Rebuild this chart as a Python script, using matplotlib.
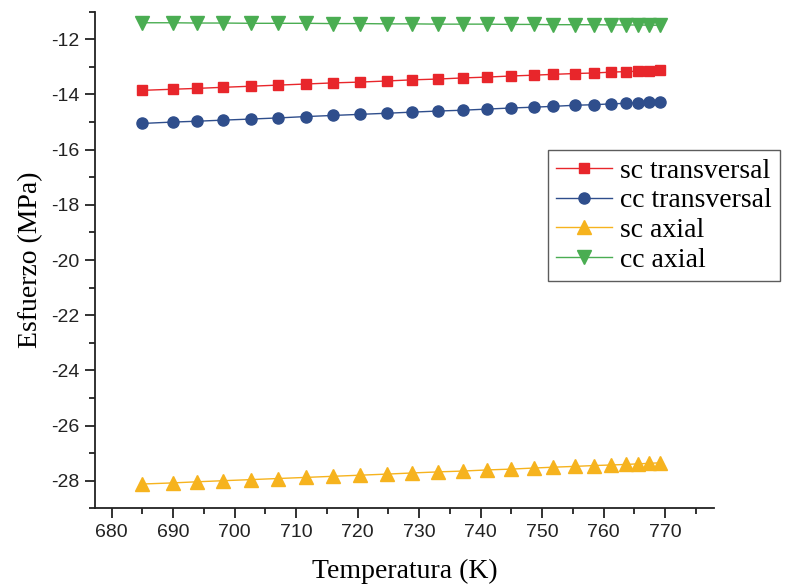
import numpy as np
import matplotlib
matplotlib.use('Agg')
import matplotlib.pyplot as plt
from matplotlib.ticker import MultipleLocator

plt.rcParams['axes.unicode_minus'] = False

temperatura = [685.0, 689.9, 693.8, 698.1, 702.7, 707.1, 711.6, 716.0, 720.4, 724.8,
               728.8, 733.1, 737.1, 741.0, 744.9, 748.7, 751.8, 755.4, 758.5, 761.2,
               763.7, 765.5, 767.4, 769.2]

sc_transversal = [-13.85, -13.81, -13.78, -13.74, -13.70, -13.66, -13.62, -13.58, -13.55, -13.51,
                  -13.47, -13.44, -13.40, -13.37, -13.33, -13.30, -13.27, -13.24, -13.22, -13.19,
                  -13.17, -13.16, -13.14, -13.13]
cc_transversal = [-15.05, -15.00, -14.97, -14.93, -14.89, -14.85, -14.80, -14.76, -14.72, -14.68,
                  -14.64, -14.60, -14.57, -14.53, -14.49, -14.46, -14.43, -14.39, -14.37, -14.34,
                  -14.32, -14.30, -14.28, -14.26]
sc_axial = [-28.12, -28.08, -28.04, -28.00, -27.96, -27.92, -27.88, -27.84, -27.80, -27.76,
            -27.72, -27.68, -27.65, -27.61, -27.58, -27.54, -27.51, -27.48, -27.45, -27.43,
            -27.41, -27.39, -27.37, -27.35]
cc_axial = [-11.40, -11.40, -11.41, -11.41, -11.42, -11.42, -11.42, -11.43, -11.43, -11.44,
            -11.44, -11.45, -11.45, -11.45, -11.46, -11.46, -11.47, -11.47, -11.47, -11.48,
            -11.48, -11.48, -11.49, -11.49]

series = [
    ('sc transversal', sc_transversal, 's', '#e8262b', 7.5),
    ('cc transversal', cc_transversal, 'o', '#2f4e8c', 8),
    ('sc axial', sc_axial, '^', '#f6b31e', 9.5),
    ('cc axial', cc_axial, 'v', '#4aad52', 9.5),
]

fig = plt.figure(figsize=(7.88, 5.86), dpi=100)
ax = fig.add_axes([0.1206, 0.1326, 0.786, 0.8474])

for label, vals, mk, col, ms in series:
    ax.plot(temperatura, vals, color=col, lw=1.0,
            marker=mk, markersize=ms, markerfacecolor=col, markeredgecolor=col,
            label=label)

ax.set_xlim(677.3, 778)
ax.set_ylim(-29, -11)
ax.xaxis.set_major_locator(MultipleLocator(10))
ax.xaxis.set_minor_locator(MultipleLocator(5))
ax.yaxis.set_major_locator(MultipleLocator(2))
ax.yaxis.set_minor_locator(MultipleLocator(1))

for s in ['top', 'right']:
    ax.spines[s].set_visible(False)
for s in ['left', 'bottom']:
    ax.spines[s].set_linewidth(1.3)
    ax.spines[s].set_color('#222222')

ax.tick_params(which='major', direction='out', length=7, width=1.3, labelsize=14,
               colors='#222222', pad=4)
ax.tick_params(which='minor', direction='out', length=4.5, width=1.3, colors='#222222')
for t in ax.get_xticklabels() + ax.get_yticklabels():
    t.set_family('Liberation Sans')

ax.set_xlabel('Temperatura (K)', fontsize=20, family='Liberation Serif', labelpad=13)
ax.set_ylabel('Esfuerzo (MPa)', fontsize=20, family='Liberation Serif', labelpad=6)

leg = ax.legend(loc='upper left', bbox_to_anchor=(0.695, 0.744),
                bbox_transform=fig.transFigure, frameon=True, fancybox=False,
                prop={'family': 'Liberation Serif', 'size': 20},
                borderaxespad=0, handlelength=2.0, handletextpad=0.3,
                labelspacing=0.15, borderpad=0.3)
leg.get_frame().set_edgecolor('#333333')
leg.get_frame().set_linewidth(1.0)

fig.savefig('out.png', dpi=100)
